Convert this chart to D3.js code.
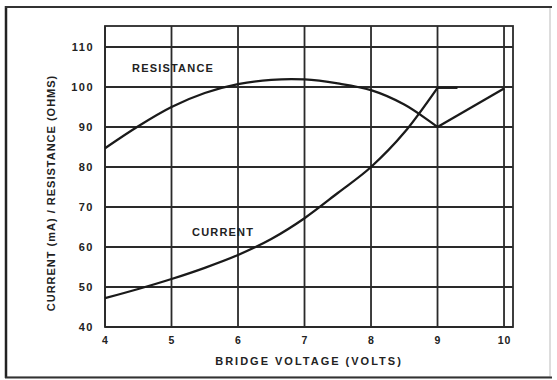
<!DOCTYPE html>
<html><head><meta charset="utf-8">
<script src="https://cdn.jsdelivr.net/npm/d3@7"></script>
<style>
html,body{margin:0;padding:0;background:#fff;}
svg{display:block;}
text{font-family:"Liberation Sans",Arial,sans-serif;font-weight:bold;fill:#222;}
</style></head>
<body>
<svg id="chart" width="557" height="380"></svg>
<script>
// Data
const voltage = [4, 4.5, 5, 5.5, 6, 6.5, 7, 7.5, 8, 8.5, 9];
const resistance = [84.7, 90.2, 95, 98.5, 100.7, 101.8, 101.9, 100.9, 99.2, 95.6, 90];
const current = [47.2, 49.5, 52, 54.8, 58, 62, 67.2, 73.5, 80, 88.6, 99.8];
const resistanceTailVolts = [9, 10];
const resistanceTail = [90, 99.6];
const currentTailVolts = [9, 9.3];
const currentTail = [99.8, 99.8];
const xTicks = [4, 5, 6, 7, 8, 9, 10];
const yTicks = [40, 50, 60, 70, 80, 90, 100, 110];
const xDomain = [4, 10.135];
const yDomain = [40, 115.25];

const svg = d3.select("#chart");

// outer frame
svg.append("rect").attr("x", 6).attr("y", 7).attr("width", 544).attr("height", 370)
  .attr("fill", "#fff").attr("stroke", "#bbb").attr("stroke-width", 1);
svg.append("line").attr("x1", 6).attr("x2", 6).attr("y1", 6).attr("y2", 378).attr("stroke", "#222").attr("stroke-width", 2.5);
svg.append("line").attr("x1", 5).attr("x2", 552).attr("y1", 7).attr("y2", 7).attr("stroke", "#333").attr("stroke-width", 2);
svg.append("line").attr("x1", 5).attr("x2", 552).attr("y1", 377.5).attr("y2", 377.5).attr("stroke", "#333").attr("stroke-width", 2);

const x = d3.scaleLinear().domain(xDomain).range([105, 513]);
const y = d3.scaleLinear().domain(yDomain).range([327, 26]);

const grid = svg.append("g").attr("stroke", "#2a2a2a").attr("stroke-width", 1.8);
grid.selectAll(".vx").data(xTicks).enter().append("line")
  .attr("x1", d => x(d)).attr("x2", d => x(d)).attr("y1", y(yDomain[0])).attr("y2", y(yDomain[1]));
grid.selectAll(".hy").data(yTicks).enter().append("line")
  .attr("x1", x(xDomain[0])).attr("x2", x(xDomain[1])).attr("y1", d => y(d)).attr("y2", d => y(d));
grid.append("rect").attr("x", x(xDomain[0])).attr("y", y(yDomain[1]))
  .attr("width", x(xDomain[1]) - x(xDomain[0])).attr("height", y(yDomain[0]) - y(yDomain[1]))
  .attr("fill", "none");

// axes labels via d3 axes
const xAxis = d3.axisBottom(x).tickValues(xTicks).tickSize(0).tickPadding(10).tickFormat(d3.format("d"));
const gx = svg.append("g").attr("transform", `translate(0,${y(yDomain[0])})`).call(xAxis);
gx.select(".domain").remove();
gx.selectAll("text").attr("font-size", 10.5).style("letter-spacing", "1px").attr("fill", "#222")
  .attr("font-family", "Liberation Sans, Arial, sans-serif").attr("font-weight", "bold");

const yAxis = d3.axisLeft(y).tickValues(yTicks).tickSize(0).tickPadding(11).tickFormat(d3.format("d"));
const gy = svg.append("g").attr("transform", `translate(${x(xDomain[0])},0)`).call(yAxis);
gy.select(".domain").remove();
gy.selectAll("text").attr("font-size", 11).style("letter-spacing", "1.5px").attr("fill", "#222")
  .attr("font-family", "Liberation Sans, Arial, sans-serif").attr("font-weight", "bold");

// curves
const smoothR = d3.line().x(d => x(d[0])).y(d => y(d[1])).curve(d3.curveCatmullRom.alpha(0.5));
const smoothC = d3.line().x(d => x(d[0])).y(d => y(d[1])).curve(d3.curveMonotoneX);
const straight = d3.line().x(d => x(d[0])).y(d => y(d[1]));
const curveStyle = p => p.attr("fill", "none").attr("stroke", "#1a1a1a").attr("stroke-width", 2.3).attr("stroke-linejoin", "round");

svg.append("path").datum(d3.zip(voltage, resistance)).attr("d", smoothR).call(curveStyle);
svg.append("path").datum(d3.zip(resistanceTailVolts, resistanceTail)).attr("d", straight).call(curveStyle);
svg.append("path").datum(d3.zip(voltage, current)).attr("d", smoothC).call(curveStyle);
svg.append("path").datum(d3.zip(currentTailVolts, currentTail)).attr("d", straight).call(curveStyle);

// curve labels
svg.append("text").attr("x", 132).attr("y", 72).attr("font-size", 11).style("letter-spacing", "1.2px").text("RESISTANCE");
svg.append("text").attr("x", 192).attr("y", 236).attr("font-size", 11).style("letter-spacing", "1.2px").text("CURRENT");

// axis titles
svg.append("text").attr("x", 309).attr("y", 365).attr("text-anchor", "middle")
  .attr("font-size", 11).style("letter-spacing", "2px").text("BRIDGE VOLTAGE (VOLTS)");
svg.append("text").attr("transform", "translate(55,193) rotate(-90)").attr("text-anchor", "middle")
  .attr("font-size", 11).style("letter-spacing", "1px").text("CURRENT (mA) / RESISTANCE (OHMS)");
</script>
</body></html>
